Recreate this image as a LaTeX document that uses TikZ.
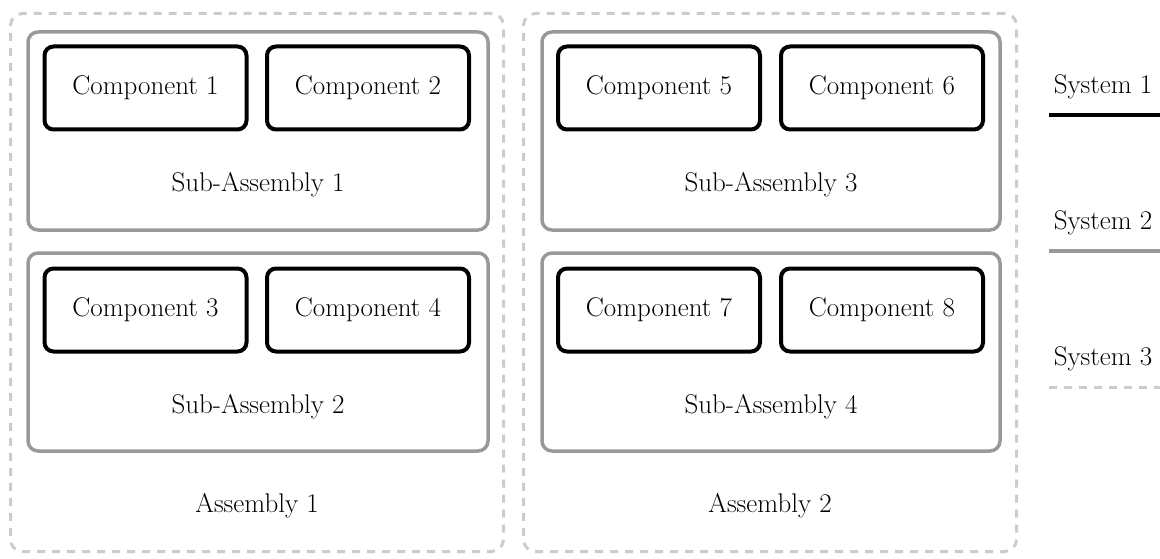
\documentclass[tikz,border=0pt]{standalone}
\usepackage{tikz}

\definecolor{subgray}{HTML}{999999}
\definecolor{asmgray}{HTML}{CCCCCC}

\tikzset{
  comp/.style={draw=black, line width=4pt, rounded corners=9pt,
    minimum width=202pt, minimum height=83pt, font=\fontsize{27}{31}\selectfont},
  subasm/.style={draw=subgray, line width=3.5pt, rounded corners=10pt,
    minimum width=460pt, minimum height=198pt},
  asm/.style={draw=asmgray, line width=3pt, rounded corners=12pt,
    dash pattern=on 8pt off 7pt, minimum width=493pt, minimum height=538pt},
  lbl/.style={font=\fontsize{27}{31}\selectfont}
}

\begin{document}
\begin{tikzpicture}[x=1pt, y=-1pt]

\useasboundingbox (0,0) rectangle (1160,559);

% Assemblies
\node[asm] (asm1) at (257,282.5) {};
\node[asm] (asm2) at (770,282.5) {};
\node[lbl] (asm1lbl) at (257,506) {Assembly 1};
\node[lbl] (asm2lbl) at (770,506) {Assembly 2};

% Sub-assemblies
\node[subasm] (sub1) at (258,131) {};
\node[subasm] (sub2) at (258,352) {};
\node[subasm, minimum width=458pt] (sub3) at (771,131) {};
\node[subasm, minimum width=458pt] (sub4) at (771,352) {};
\node[lbl] (sub1lbl) at (258,185) {Sub-Assembly 1};
\node[lbl] (sub2lbl) at (258,407) {Sub-Assembly 2};
\node[lbl] (sub3lbl) at (771,185) {Sub-Assembly 3};
\node[lbl] (sub4lbl) at (771,407) {Sub-Assembly 4};

% Components
\node[comp] (c1) at (145.5,88) {Component 1};
\node[comp] (c2) at (368,88) {Component 2};
\node[comp] (c3) at (145.5,310) {Component 3};
\node[comp] (c4) at (368,310) {Component 4};
\node[comp] (c5) at (659,88) {Component 5};
\node[comp] (c6) at (882,88) {Component 6};
\node[comp] (c7) at (659,310) {Component 7};
\node[comp] (c8) at (882,310) {Component 8};

% Legend
\node[lbl] (sys1) at (1103,87) {System 1};
\node[lbl] (sys2) at (1103,223) {System 2};
\node[lbl] (sys3) at (1103,359) {System 3};
\coordinate (l1a) at (1049,115); \coordinate (l1b) at (1160,115);
\coordinate (l2a) at (1049,251); \coordinate (l2b) at (1160,251);
\coordinate (l3a) at (1049,387); \coordinate (l3b) at (1160,387);
\draw[black, line width=4pt] (l1a) -- (l1b);
\draw[subgray, line width=3.5pt] (l2a) -- (l2b);
\draw[asmgray, line width=3pt, dash pattern=on 8pt off 7pt] (l3a) -- (l3b);

\end{tikzpicture}
\end{document}
